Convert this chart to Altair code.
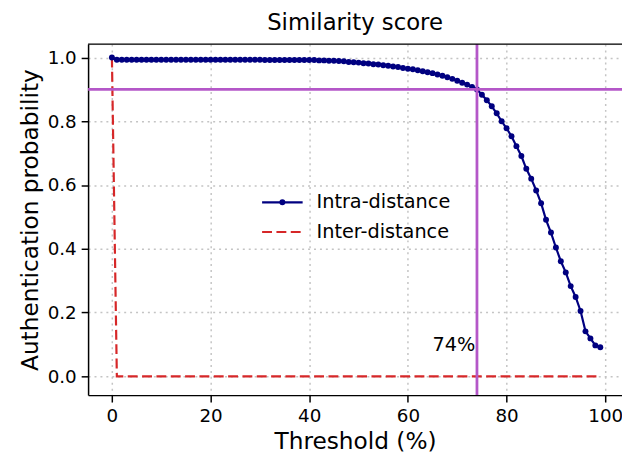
import altair as alt
import pandas as pd

thresholds = list(range(100))

intra = [
    1.000, 0.993, 0.993, 0.993, 0.993, 0.993, 0.993, 0.993, 0.993, 0.993,
    0.993, 0.993, 0.993, 0.993, 0.993, 0.993, 0.993, 0.993, 0.993, 0.993,
    0.993, 0.993, 0.993, 0.993, 0.993, 0.993, 0.993, 0.993, 0.993, 0.993,
    0.993, 0.992, 0.992, 0.992, 0.992, 0.992, 0.992, 0.992, 0.992, 0.992,
    0.992, 0.992, 0.991, 0.991, 0.990, 0.990, 0.989, 0.988, 0.986, 0.985,
    0.984, 0.982, 0.981, 0.979, 0.978, 0.976, 0.974, 0.972, 0.970, 0.967,
    0.965, 0.963, 0.960, 0.957, 0.954, 0.951, 0.947, 0.943, 0.938, 0.933,
    0.927, 0.921, 0.915, 0.908, 0.900, 0.883, 0.866, 0.847, 0.825, 0.800,
    0.778, 0.753, 0.722, 0.691, 0.651, 0.620, 0.583, 0.543, 0.491, 0.451,
    0.404, 0.361, 0.326, 0.283, 0.249, 0.205, 0.141, 0.119, 0.097, 0.091,
]

inter = [
    1.0, 0.0, 0.0, 0.0, 0.0, 0.0, 0.0, 0.0, 0.0, 0.0,
    0.0, 0.0, 0.0, 0.0, 0.0, 0.0, 0.0, 0.0, 0.0, 0.0,
    0.0, 0.0, 0.0, 0.0, 0.0, 0.0, 0.0, 0.0, 0.0, 0.0,
    0.0, 0.0, 0.0, 0.0, 0.0, 0.0, 0.0, 0.0, 0.0, 0.0,
    0.0, 0.0, 0.0, 0.0, 0.0, 0.0, 0.0, 0.0, 0.0, 0.0,
    0.0, 0.0, 0.0, 0.0, 0.0, 0.0, 0.0, 0.0, 0.0, 0.0,
    0.0, 0.0, 0.0, 0.0, 0.0, 0.0, 0.0, 0.0, 0.0, 0.0,
    0.0, 0.0, 0.0, 0.0, 0.0, 0.0, 0.0, 0.0, 0.0, 0.0,
    0.0, 0.0, 0.0, 0.0, 0.0, 0.0, 0.0, 0.0, 0.0, 0.0,
    0.0, 0.0, 0.0, 0.0, 0.0, 0.0, 0.0, 0.0, 0.0, 0.0,
]

threshold_line = [74]
prob_line = [0.9]
note_x = [65]
note_y = [0.08]
note_text = ["74%"]

x_ticks = [0, 20, 40, 60, 80, 100]
y_ticks = [0.0, 0.2, 0.4, 0.6, 0.8, 1.0]

FONT = "DejaVu Sans"
NAVY = "#000080"
RED = "#d62728"
PURPLE = "#b457c8"
W, H = 540, 355

df = pd.DataFrame({"threshold": thresholds, "intra": intra, "inter": inter})

x_scale = alt.Scale(domain=[-4.83, 103.4], nice=False, zero=False)
y_scale = alt.Scale(domain=[-0.059, 1.042], nice=False, zero=False)

common_axis = dict(
    grid=True, gridDash=[2, 4], gridColor="#c4c4c4", gridWidth=1.5,
    domainColor="black", domainWidth=1.5, tickColor="black", tickSize=7,
    tickWidth=1.5, labelFontSize=18.5, labelPadding=5, labelColor="black",
    labelFont=FONT, titleFont=FONT, titleFontSize=23.5, titleColor="black",
    titleFontWeight="normal",
)

x_axis = alt.Axis(values=x_ticks, title="Threshold (%)", format="d",
                  orient="bottom", titlePadding=4, **common_axis)
y_axis = alt.Axis(values=y_ticks, title="Authentication probability",
                  format=".1f", orient="left", titlePadding=5, **common_axis)

base = alt.Chart(df)

intra_line = base.mark_line(color=NAVY, strokeWidth=2.2).encode(
    x=alt.X("threshold:Q", scale=x_scale, axis=x_axis),
    y=alt.Y("intra:Q", scale=y_scale, axis=y_axis),
)
intra_pts = base.mark_point(filled=True, color=NAVY, size=36, opacity=1).encode(
    x=alt.X("threshold:Q", scale=x_scale),
    y=alt.Y("intra:Q", scale=y_scale),
)
inter_line = base.mark_line(color=RED, strokeWidth=2.2, strokeDash=[10, 4.5]).encode(
    x=alt.X("threshold:Q", scale=x_scale),
    y=alt.Y("inter:Q", scale=y_scale),
)

vline = alt.Chart(pd.DataFrame({"threshold": threshold_line})).mark_rule(
    color=PURPLE, strokeWidth=2.8).encode(x=alt.X("threshold:Q", scale=x_scale))
hline = alt.Chart(pd.DataFrame({"intra": prob_line})).mark_rule(
    color=PURPLE, strokeWidth=2.8).encode(y=alt.Y("intra:Q", scale=y_scale))

note = alt.Chart(pd.DataFrame({"threshold": note_x, "intra": note_y, "t": note_text})).mark_text(
    align="left", baseline="alphabetic", font=FONT, fontSize=19.5, color="black"
).encode(
    x=alt.X("threshold:Q", scale=x_scale),
    y=alt.Y("intra:Q", scale=y_scale),
    text="t:N",
)

one = pd.DataFrame({"a": [0]})
# top frame line (matplotlib spine)
top_frame = alt.Chart(one).mark_rule(color="black", strokeWidth=1.5).encode(
    x=alt.value(0), x2=alt.value(W), y=alt.value(0))

# legend (manual, mimicking matplotlib)
leg_names = ["Intra-distance", "Inter-distance"]
leg1_line = alt.Chart(one).mark_rule(color=NAVY, strokeWidth=2.2).encode(
    x=alt.value(176), x2=alt.value(217), y=alt.value(160))
leg1_dot = alt.Chart(one).mark_point(filled=True, color=NAVY, size=36, opacity=1).encode(
    x=alt.value(196.5), y=alt.value(160))
leg2_line = alt.Chart(one).mark_rule(color=RED, strokeWidth=2.2, strokeDash=[10, 4.5]).encode(
    x=alt.value(176), x2=alt.value(217), y=alt.value(190))
leg1_text = alt.Chart(one).mark_text(
    align="left", baseline="middle", font=FONT, fontSize=19.5, color="black", text=leg_names[0]
).encode(x=alt.value(231), y=alt.value(160))
leg2_text = alt.Chart(one).mark_text(
    align="left", baseline="middle", font=FONT, fontSize=19.5, color="black", text=leg_names[1]
).encode(x=alt.value(231), y=alt.value(190))

chart = alt.layer(
    intra_line, inter_line, intra_pts, hline, vline, note, top_frame,
    leg1_line, leg1_dot, leg2_line, leg1_text, leg2_text,
).properties(
    width=W, height=H,
    title=alt.TitleParams("Similarity score", fontSize=23, font=FONT,
                          fontWeight="normal", color="black", anchor="middle",
                          offset=8),
    autosize=alt.AutoSizeParams(type="none"),
    padding={"left": 81, "top": 34, "right": 0, "bottom": 56},
).configure_view(stroke=None).configure(background="white")

chart.save("out.html", embed_options={"renderer": "svg", "actions": False})
